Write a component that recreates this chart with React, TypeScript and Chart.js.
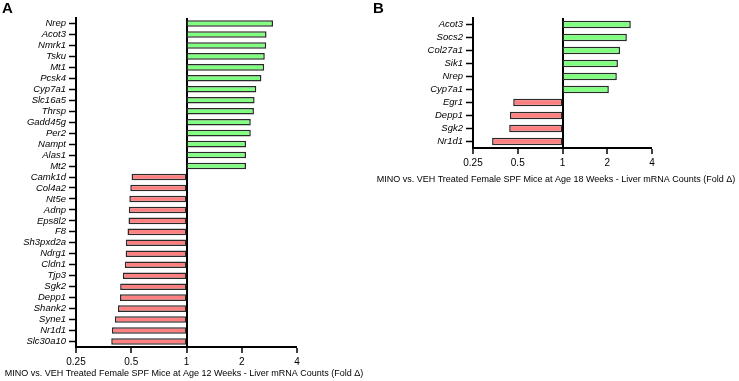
import React, { useEffect, useRef } from "react";
import { Chart, registerables } from "chart.js";

Chart.register(...registerables);

const genesA = [
  "Nrep", "Acot3", "Nmrk1", "Tsku", "Mt1", "Pcsk4", "Cyp7a1", "Slc16a5", "Thrsp", "Gadd45g",
  "Per2", "Nampt", "Alas1", "Mt2", "Camk1d", "Col4a2", "Nt5e", "Adnp", "Eps8l2", "F8",
  "Sh3pxd2a", "Ndrg1", "Cldn1", "Tjp3", "Sgk2", "Depp1", "Shank2", "Syne1", "Nr1d1", "Slc30a10",
];
const foldA = [
  2.96, 2.73, 2.72, 2.67, 2.65, 2.56, 2.40, 2.35, 2.33, 2.24,
  2.24, 2.11, 2.11, 2.11, 0.502, 0.494, 0.488, 0.485, 0.483, 0.477,
  0.467, 0.466, 0.461, 0.450, 0.435, 0.434, 0.423, 0.407, 0.392, 0.389,
];
const genesB = ["Acot3", "Socs2", "Col27a1", "Sik1", "Nrep", "Cyp7a1", "Egr1", "Depp1", "Sgk2", "Nr1d1"];
const foldB = [2.88, 2.71, 2.44, 2.36, 2.32, 2.05, 0.466, 0.443, 0.438, 0.336];
const xTicks = [0.25, 0.5, 1, 2, 4];
const titleA = "MINO vs. VEH Treated Female SPF Mice at Age 12 Weeks - Liver mRNA Counts (Fold \u0394)";
const titleB = "MINO vs. VEH Treated Female SPF Mice at Age 18 Weeks - Liver mRNA Counts (Fold \u0394)";

const FONT = "'Liberation Sans', Arial, Helvetica, sans-serif";
const UP = "#80ff80";
const DOWN = "#ff8080";

type Cfg = {
  labels: string[];
  values: number[];
  title: string;
  titleX: number;
  titleY: number;
  yWidth: number;
  xHeight: number;
  padTop: number;
  padRight: number;
  barPct: number;
};

const axisTitlePlugin = {
  id: "axisTitleFree",
  afterDraw(chart: any, _args: any, opts: any) {
    const ctx = chart.ctx;
    ctx.save();
    ctx.font = `${opts.size}px ${FONT}`;
    ctx.fillStyle = "#000";
    ctx.textAlign = "center";
    ctx.textBaseline = "middle";
    ctx.fillText(opts.text, opts.x, opts.y);
    ctx.restore();
  },
};

function makeChart(canvas: HTMLCanvasElement, c: Cfg) {
  return new Chart(canvas, {
    type: "bar",
    data: {
      labels: c.labels,
      datasets: [
        {
          data: c.values.map((v) => [1, v]) as any,
          backgroundColor: c.values.map((v) => (v >= 1 ? UP : DOWN)),
          borderColor: "#2a2a2a",
          borderWidth: 1.5,
          borderSkipped: false,
          barPercentage: c.barPct,
          categoryPercentage: 1,
        },
      ],
    },
    plugins: [axisTitlePlugin],
    options: {
      indexAxis: "y",
      animation: false,
      responsive: false,
      maintainAspectRatio: false,
      layout: { padding: { top: c.padTop, right: c.padRight, left: 0, bottom: 0 } },
      plugins: {
        legend: { display: false },
        tooltip: { enabled: false },
        title: { display: false },
        axisTitleFree: { text: c.title, x: c.titleX, y: c.titleY, size: 9 },
      },
      scales: {
        x: {
          type: "logarithmic",
          min: 0.25,
          max: 4,
          afterBuildTicks: (axis: any) => {
            axis.ticks = xTicks.map((v) => ({ value: v }));
          },
          afterFit: (scale: any) => {
            scale.height = c.xHeight;
          },
          ticks: {
            autoSkip: false,
            maxRotation: 0,
            padding: 3,
            color: "#000",
            font: { family: FONT, size: 10 },
            callback: (v: any) => String(v),
          },
          grid: {
            display: true,
            drawOnChartArea: true,
            drawTicks: true,
            tickLength: 6,
            tickColor: "#000",
            tickWidth: 1.5,
            color: (ctx: any) => (ctx.tick && ctx.tick.value === 1 ? "#000" : "rgba(0,0,0,0)"),
            lineWidth: (ctx: any) => (ctx.tick && ctx.tick.value === 1 ? 2 : 0),
          },
          border: { display: true, color: "#000", width: 2 },
          title: { display: false },
        },
        y: {
          type: "category",
          afterFit: (scale: any) => {
            scale.width = c.yWidth;
          },
          ticks: {
            autoSkip: false,
            padding: 3,
            color: "#000",
            font: { family: FONT, size: 9.5, style: "italic" },
          },
          grid: {
            display: true,
            offset: false,
            drawOnChartArea: false,
            drawTicks: true,
            tickLength: 7,
            tickColor: "#000",
            tickWidth: 1.5,
          },
          border: { display: true, color: "#000", width: 2 },
        },
      },
    } as any,
  });
}

export default function App() {
  const refA = useRef<HTMLCanvasElement | null>(null);
  const refB = useRef<HTMLCanvasElement | null>(null);

  useEffect(() => {
    const a = makeChart(refA.current!, {
      labels: genesA,
      values: foldA,
      title: titleA,
      titleX: 184,
      titleY: 374,
      yWidth: 76,
      xHeight: 34,
      padTop: 18,
      padRight: 73,
      barPct: 0.6,
    });
    const b = makeChart(refB.current!, {
      labels: genesB,
      values: foldB,
      title: titleB,
      titleX: 186,
      titleY: 180,
      yWidth: 103,
      xHeight: 42,
      padTop: 18,
      padRight: 87,
      barPct: 0.57,
    });
    return () => {
      a.destroy();
      b.destroy();
    };
  }, []);

  const letter: React.CSSProperties = {
    position: "absolute",
    top: 0,
    fontFamily: FONT,
    fontWeight: "bold",
    fontSize: 15,
    lineHeight: "15px",
    color: "#000",
  };

  return (
    <div style={{ position: "fixed", left: 0, top: 0, width: 739, height: 381, background: "#fff" }}>
      <canvas ref={refA} width={370} height={381} style={{ position: "absolute", left: 0, top: 0, width: 370, height: 381 }} />
      <canvas ref={refB} width={369} height={190} style={{ position: "absolute", left: 370, top: 0, width: 369, height: 190 }} />
      <div style={{ ...letter, left: 2 }}>A</div>
      <div style={{ ...letter, left: 373 }}>B</div>
    </div>
  );
}
